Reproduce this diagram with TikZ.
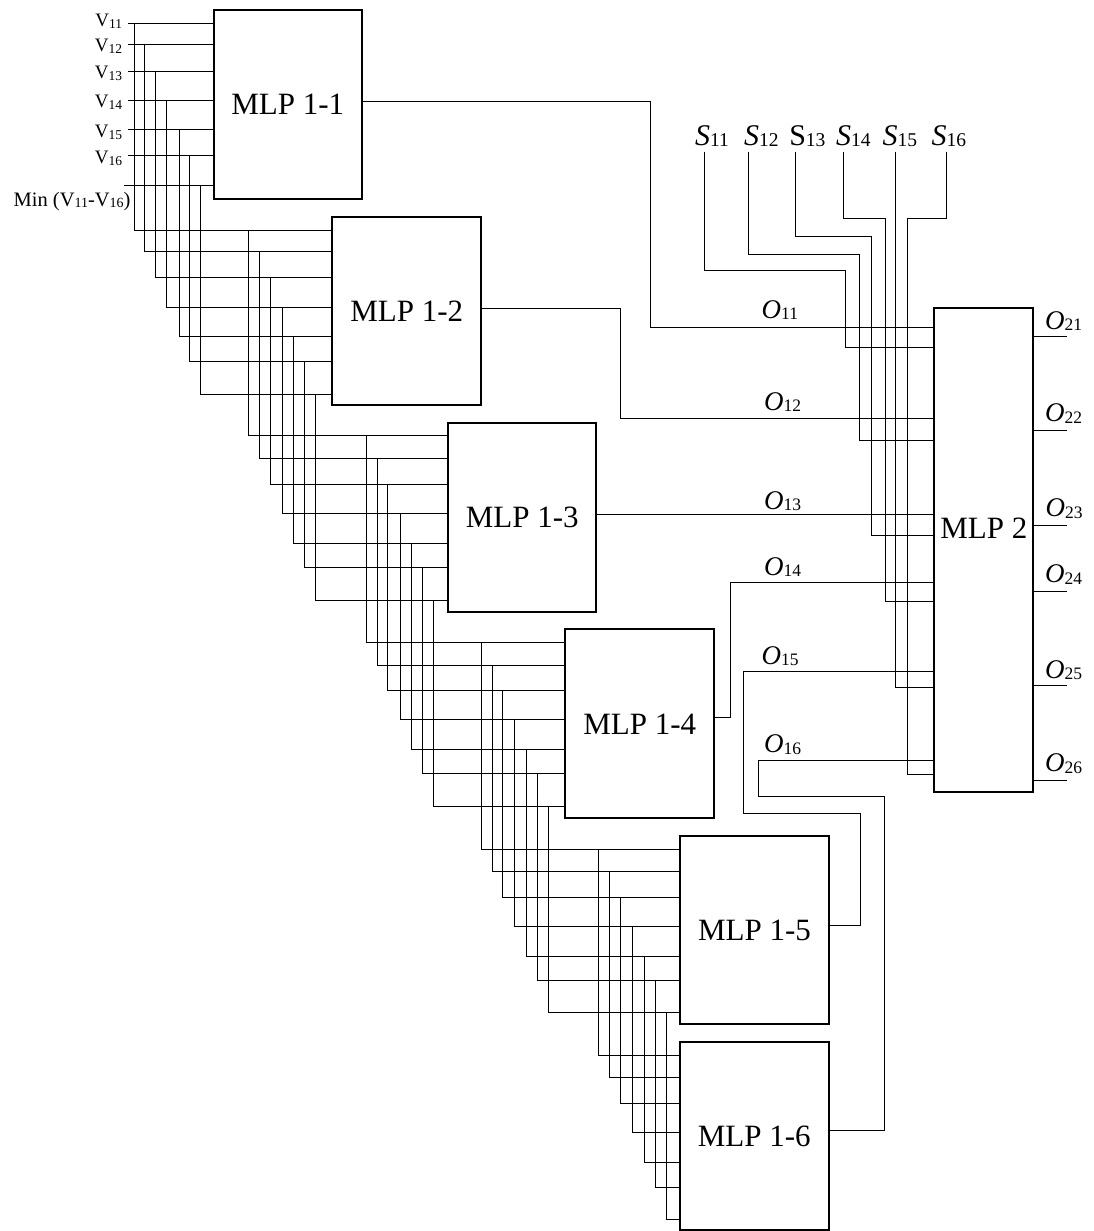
\documentclass[tikz,border=0pt]{standalone}
\usepackage{fontspec}
\setmainfont{Liberation Serif}
\newcommand{\Olab}[1]{{\fontsize{27}{30}\selectfont\itshape O}\raisebox{-1.5pt}{\fontsize{17.5}{20}\selectfont #1}}
\newcommand{\Slab}[1]{{\fontsize{30}{32}\selectfont\itshape S}\raisebox{-1.5pt}{\fontsize{19.5}{22}\selectfont #1}}
\newcommand{\Sup}[1]{{\fontsize{30}{32}\selectfont S}\raisebox{-1.5pt}{\fontsize{19.5}{22}\selectfont #1}}
\newcommand{\Vlab}[1]{{\fontsize{19}{21}\selectfont V}\raisebox{-2pt}{\fontsize{13.5}{15}\selectfont #1}}
\tikzset{
  mlp/.style={draw, line width=2pt, minimum width=148.5pt, inner sep=0pt, font=\fontsize{31}{34}\selectfont},
  wire/.style={line width=0.9pt},
  lab/.style={inner sep=0pt, outer sep=0pt},
}
\begin{document}
\begin{tikzpicture}[x=1pt,y=-1pt]
\useasboundingbox (0,0) rectangle (1094,1231);
% first-level blocks
\node[mlp, minimum height=189pt]   (B1) at (287.8,104.5)  {MLP 1-1};
\node[mlp, minimum height=188.6pt] (B2) at (406.7,311)    {MLP 1-2};
\node[mlp, minimum height=189.3pt] (B3) at (522.2,517.35) {MLP 1-3};
\node[mlp, minimum height=189pt]   (B4) at (639.7,723.8)  {MLP 1-4};
\node[mlp, minimum height=188.6pt] (B5) at (754.5,930)    {MLP 1-5};
\node[mlp, minimum height=187.2pt] (B6) at (754.3,1135.9) {MLP 1-6};
% second-level block
\node[draw, line width=2pt, minimum width=99pt, minimum height=484pt, inner sep=0pt] (M2) at (983.8,550.3) {};
\node[lab, font=\fontsize{31}{34}\selectfont] (M2t) at (983.8,528.5) {MLP 2};

% input labels
\node[lab, anchor=base east] (v11) at (122,27)  {\Vlab{11}};
\node[lab, anchor=base east] (v12) at (122,52)  {\Vlab{12}};
\node[lab, anchor=base east] (v13) at (122,78)  {\Vlab{13}};
\node[lab, anchor=base east] (v14) at (122,107) {\Vlab{14}};
\node[lab, anchor=base east] (v15) at (122,137) {\Vlab{15}};
\node[lab, anchor=base east] (v16) at (122,163) {\Vlab{16}};
\node[lab, anchor=base east, font=\fontsize{20.5}{22}\selectfont] (vmin) at (130.5,206.7)
  {Min (V\raisebox{-1pt}{\fontsize{14}{16}\selectfont 11}-V\raisebox{-1pt}{\fontsize{14}{16}\selectfont 16})};

% inputs of MLP 1-1
\foreach \y in {23.3,44.3,71.7,100,129,155}
  \draw[wire] (128,\y) -- (B1.west |- 0,\y);
\draw[wire] (124,185) -- (B1.west |- 0,185);

% buses between first-level blocks
\foreach \x/\ya/\yb in {134/23.3/230, 144.3/44.3/251.7, 155.3/71.7/277.7, 166.7/100/307,
                        179.7/129/336.7, 189.7/155/361.7, 200.7/185/394.3}
  \draw[wire] (\x,\ya) |- (B2.west |- 0,\yb);
\foreach \x/\ya/\yb in {248.7/230/435.7, 259.3/251.7/458.3, 270/277.7/484.3, 282/307/513.3,
                        293.7/336.7/543.3, 304.7/361.7/567.7, 315.7/394.3/600.7}
  \draw[wire] (\x,\ya) |- (B3.west |- 0,\yb);
\foreach \x/\ya/\yb in {366.3/435.7/642.3, 377/458.3/665, 387.7/484.3/690.3, 400/513.3/719.3,
                        411.7/543.3/749.3, 422.3/567.7/773.7, 433/600.7/806.7}
  \draw[wire] (\x,\ya) |- (B4.west |- 0,\yb);
\foreach \x/\ya/\yb in {481.7/642.3/849, 492/665/871.7, 502.7/690.3/897, 514.7/719.3/926.3,
                        526.7/749.3/956, 537.7/773.7/980.3, 548.3/806.7/1012.7}
  \draw[wire] (\x,\ya) |- (B5.west |- 0,\yb);
\foreach \x/\ya/\yb in {598.7/849/1055.3, 609.7/871.7/1077.7, 620.3/897/1103.7, 632.3/926.3/1132.7,
                        644.3/956/1162.3, 655/980.3/1187, 666/1012.7/1219.3}
  \draw[wire] (\x,\ya) |- (B6.west |- 0,\yb);

% outputs of first-level blocks to MLP 2
\draw[wire] (B1.east |- 0,101.7) -| (650,327.7) -- (M2.west |- 0,327.7);
\draw[wire] (B2.east |- 0,308.3) -| (620,418.3) -- (M2.west |- 0,418.3);
\draw[wire] (B3.east |- 0,514.3) -- (M2.west |- 0,514.3);
\draw[wire] (B4.east |- 0,717.5) -| (730,582.7) -- (M2.west |- 0,582.7);
\draw[wire] (B5.east |- 0,925.7) -| (860.5,813.3) -| (743.3,671.2) -- (M2.west |- 0,671.2);
\draw[wire] (B6.east |- 0,1130.7) -| (884.2,796.5) -| (758.8,760) -- (M2.west |- 0,760);

\node[lab, anchor=base west] (o11) at (761.7,318.3) {\Olab{11}};
\node[lab, anchor=base west] (o12) at (764,410)     {\Olab{12}};
\node[lab, anchor=base west] (o13) at (764,509.3)   {\Olab{13}};
\node[lab, anchor=base west] (o14) at (764,575.3)   {\Olab{14}};
\node[lab, anchor=base west] (o15) at (761.7,664.3) {\Olab{15}};
\node[lab, anchor=base west] (o16) at (764,752.7)   {\Olab{16}};

% S inputs
\node[lab, anchor=base west] (s11) at (695,145)   {\Slab{11}};
\node[lab, anchor=base west] (s12) at (744,145)   {\Slab{12}};
\node[lab, anchor=base west] (s13) at (789.3,145) {\Sup{13}};
\node[lab, anchor=base west] (s14) at (836,145)   {\Slab{14}};
\node[lab, anchor=base west] (s15) at (882.7,145) {\Slab{15}};
\node[lab, anchor=base west] (s16) at (931.7,145) {\Slab{16}};

\draw[wire] (704.3,151.7) |- (845,270.3) |- (M2.west |- 0,347.3);
\draw[wire] (748.3,151.7) |- (859,254) |- (M2.west |- 0,440);
\draw[wire] (795,151.7) |- (871.7,236.7) |- (M2.west |- 0,535.7);
\draw[wire] (843.7,151.7) |- (885,218) |- (M2.west |- 0,601.7);
\draw[wire] (895.7,151.7) |- (M2.west |- 0,687.5);
\draw[wire] (946,151.7) |- (907,218) |- (M2.west |- 0,774.5);

% outputs of MLP 2
\foreach \y in {336.7,430,525.7,591.7,685.7,780}
  \draw[wire] (M2.east |- 0,\y) -- (1066.7,\y);
\node[lab, anchor=base west] (o21) at (1045,329.3)   {\Olab{21}};
\node[lab, anchor=base west] (o22) at (1045,421.7)   {\Olab{22}};
\node[lab, anchor=base west] (o23) at (1045.7,516.7) {\Olab{23}};
\node[lab, anchor=base west] (o24) at (1045,582.7)   {\Olab{24}};
\node[lab, anchor=base west] (o25) at (1045,678.3)   {\Olab{25}};
\node[lab, anchor=base west] (o26) at (1045,771.7)   {\Olab{26}};
\end{tikzpicture}
\end{document}
